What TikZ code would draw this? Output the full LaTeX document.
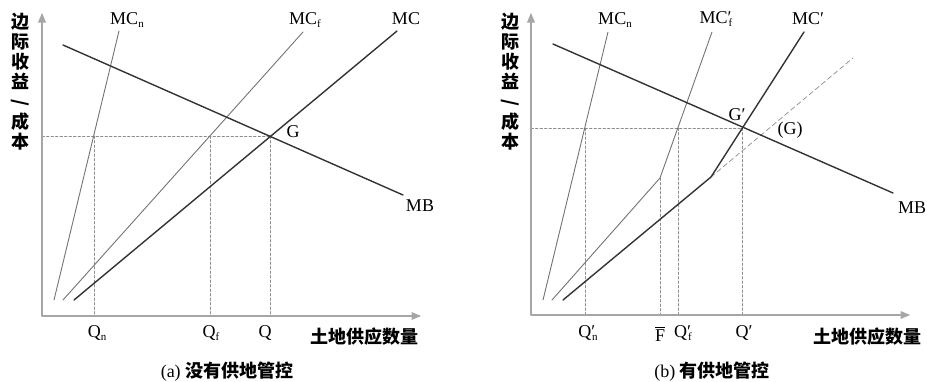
\documentclass[tikz,border=0pt]{standalone}
\usepackage{fontspec}
\setmainfont{Liberation Serif}
\newfontfamily\cjk{Noto Sans CJK SC}
\usepackage{tikz}
\usetikzlibrary{arrows}
\newcommand{\lowsub}[1]{\raisebox{-3.5pt}{\fontsize{11}{11}\selectfont #1}}

\begin{document}
\begin{tikzpicture}[line cap=round,line join=round,>=triangle 45,x=1pt,y=-1pt,
  axis/.style={draw=black!35,line width=1.2pt},
  bigcurve/.style={draw=black!80,line width=1.4pt},
  smallcurve/.style={draw=black!55,line width=0.9pt},
  guide/.style={draw=black!45,line width=0.7pt,dash pattern=on 2.5pt off 2pt},
  lab/.style={inner sep=0pt,font=\fontsize{18}{20}\selectfont},
  cjklab/.style={inner sep=0pt,font=\cjk\bfseries\fontsize{18}{20}\selectfont}]
\useasboundingbox (0,0) rectangle (927,381);
% (a) without supply control
\coordinate (oa) at (42,316);
\coordinate (ya) at (42,13);
\coordinate (xa) at (421,316);
\coordinate (mcna) at (54,300);
\coordinate (mcnb) at (119,31);
\coordinate (mcfa) at (63,300);
\coordinate (mcfb) at (303,32);
\coordinate (mca) at (74,300);
\coordinate (mcb) at (397,31);
\coordinate (mba) at (63,45);
\coordinate (mbb) at (403,195);
\coordinate (g) at (270,136);
\coordinate (gy) at (42,136);
\coordinate (qn) at (94,136);
\coordinate (qnx) at (94,316);
\coordinate (qf) at (210,136);
\coordinate (qfx) at (210,316);
\coordinate (qx) at (270,316);
\draw [guide] (gy)-- (g);
\draw [guide] (qn)-- (qnx);
\draw [guide] (qf)-- (qfx);
\draw [guide] (g)-- (qx);
\draw [axis,<->] (ya)-- (oa)-- (xa);
\draw [smallcurve] (mcna)-- (mcnb);
\draw [smallcurve] (mcfa)-- (mcfb);
\draw [bigcurve] (mca)-- (mcb);
\draw [bigcurve] (mba)-- (mbb);
\node [lab] (mcnlab) at (127,20) {MC\lowsub{n}};
\node [lab] (mcflab) at (305,20) {MC\lowsub{f}};
\node [lab] (mclab) at (406,19) {MC};
\node [lab] (glab) at (293,132) {G};
\node [lab] (mblab) at (420,206) {MB};
\node [lab] (qnlab) at (97,333) {Q\lowsub{n}};
\node [lab] (qflab) at (211,333) {Q\lowsub{f}};
\node [lab] (qlab) at (265,333) {Q};
\node [cjklab] (xlaba) at (364,337) {土地供应数量};
\node [cjklab,align=center] (ylaba) at (20,82) {边\\际\\收\\益\\\rotatebox[origin=c]{-90}{/}\\成\\本};
\node [lab] (capa) at (227,372) {(a) {\cjk\bfseries 没有供地管控}};
% (b) with supply control
\coordinate (ob) at (531,315);
\coordinate (yb) at (531,13);
\coordinate (xb) at (910,315);
\coordinate (rmcna) at (543,300);
\coordinate (rmcnb) at (608,32);
\coordinate (rmcfa) at (552,300);
\coordinate (rmcfk) at (660,178);
\coordinate (rmcfb) at (712,32);
\coordinate (rmca) at (563,300);
\coordinate (rmck) at (711,177);
\coordinate (rmcb) at (804,32);
\coordinate (rmcold) at (853,58);
\coordinate (rmba) at (553,44);
\coordinate (rmbb) at (893,193);
\coordinate (rg) at (742,128);
\coordinate (rgy) at (531,128);
\coordinate (rqn) at (585,128);
\coordinate (rqnx) at (585,315);
\coordinate (rfx) at (660,315);
\coordinate (rqf) at (678,128);
\coordinate (rqfx) at (678,315);
\coordinate (rqx) at (742,315);
\draw [guide] (rgy)-- (rg);
\draw [guide] (rqn)-- (rqnx);
\draw [guide] (rmcfk)-- (rfx);
\draw [guide] (rqf)-- (rqfx);
\draw [guide] (rg)-- (rqx);
\draw [axis,<->] (yb)-- (ob)-- (xb);
\draw [guide,dash pattern=on 5pt off 3pt] (rmck)-- (rmcold);
\draw [smallcurve] (rmcna)-- (rmcnb);
\draw [smallcurve] (rmcfa)-- (rmcfk)-- (rmcfb);
\draw [bigcurve] (rmca)-- (rmck)-- (rmcb);
\draw [bigcurve] (rmba)-- (rmbb);
\node [lab] (rmcnlab) at (615,20) {MC\lowsub{n}};
\node [lab] (rmcflab) at (716,19) {MC′\kern-3pt\lowsub{f}};
\node [lab] (rmclab) at (808,19) {MC′};
\node [lab] (rglab) at (737,115) {G′};
\node [lab] (roldlab) at (790,130) {(G)};
\node [lab] (rmblab) at (912,208) {MB};
\node [lab] (rqnlab) at (588,333) {Q′\kern-3pt\lowsub{n}};
\node [lab] (rflab) at (660,334) {\rlap{\raisebox{14pt}{\rule{10pt}{0.8pt}}}F};
\node [lab] (rqflab) at (683,333) {Q′\kern-3pt\lowsub{f}};
\node [lab] (rqlab) at (744,333) {Q′};
\node [cjklab] (xlabb) at (867,337) {土地供应数量};
\node [cjklab,align=center] (ylabb) at (510,82) {边\\际\\收\\益\\\rotatebox[origin=c]{-90}{/}\\成\\本};
\node [lab] (capb) at (712,372) {(b) {\cjk\bfseries 有供地管控}};
\end{tikzpicture}
\end{document}
